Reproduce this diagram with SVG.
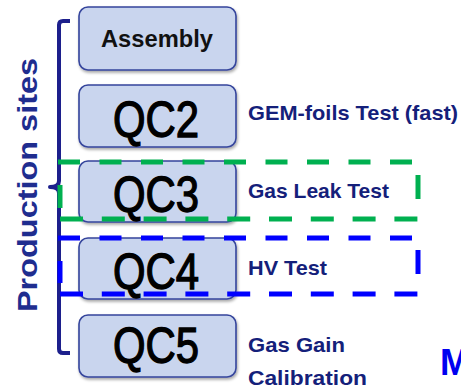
<svg xmlns="http://www.w3.org/2000/svg" width="461" height="390" viewBox="0 0 461 390">
<defs>
<filter id="sh" x="-10%" y="-10%" width="130%" height="140%">
<feGaussianBlur in="SourceAlpha" stdDeviation="1.5"/>
<feOffset dx="1" dy="2" result="b"/>
<feComponentTransfer><feFuncA type="linear" slope="0.35"/></feComponentTransfer>
<feMerge><feMergeNode/><feMergeNode in="SourceGraphic"/></feMerge>
</filter>
<style>
.box{fill:#c9d5ee;stroke:#34449c;stroke-width:1.6}
.qc{font-family:"Liberation Sans",Arial,sans-serif;font-size:50px;fill:#000;stroke:#000;stroke-width:1.3}
.asm{font-family:"Liberation Sans",Arial,sans-serif;font-size:24px;font-weight:bold;fill:#111}
.lbl{font-family:"Liberation Sans",Arial,sans-serif;font-size:21px;font-weight:bold;fill:#14207a}
.title{font-family:"Liberation Sans",Arial,sans-serif;font-size:28px;font-weight:bold;fill:#1f2d8f}
.brace{fill:none;stroke:#1c1f8c;stroke-width:4;stroke-linejoin:round}
.g{stroke:#00b050;stroke-width:5;fill:none}
.b{stroke:#0000ff;stroke-width:5;fill:none}
</style>
</defs>
<rect width="461" height="390" fill="#fff"/>

<g id="production-sites">
<path class="brace" d="M70,21 H63 Q59,21 59,25 V181 Q59,187 50,187 Q59,187 59,193 V349 Q59,353 63,353 H70"/>
<text class="title" transform="translate(37,312) rotate(-90)" x="0" y="0" textLength="254" lengthAdjust="spacingAndGlyphs">Production sites</text>
</g>

<g id="assembly">
<rect class="box" filter="url(#sh)" x="79" y="7" width="157" height="63" rx="9"/>
<text class="asm" x="157" y="47" text-anchor="middle" textLength="112" lengthAdjust="spacingAndGlyphs">Assembly</text>
</g>

<g id="qc2">
<rect class="box" filter="url(#sh)" x="79" y="85" width="157" height="62" rx="9"/>
<text class="qc" x="113" y="137" textLength="86" lengthAdjust="spacingAndGlyphs">QC2</text>
<text class="lbl" x="248" y="120" textLength="210" lengthAdjust="spacingAndGlyphs">GEM-foils Test (fast)</text>
</g>

<g id="qc3">
<rect class="box" filter="url(#sh)" x="79" y="161" width="157" height="61" rx="9"/>
<text class="qc" x="113" y="212" textLength="86" lengthAdjust="spacingAndGlyphs">QC3</text>
<text class="lbl" x="248" y="198" textLength="141" lengthAdjust="spacingAndGlyphs">Gas Leak Test</text>
</g>

<g id="qc4">
<rect class="box" filter="url(#sh)" x="79" y="238" width="157" height="61" rx="9"/>
<text class="qc" x="113" y="289" textLength="86" lengthAdjust="spacingAndGlyphs">QC4</text>
<text class="lbl" x="248" y="275" textLength="79" lengthAdjust="spacingAndGlyphs">HV Test</text>
</g>

<g id="qc5">
<rect class="box" filter="url(#sh)" x="79" y="315" width="157" height="62" rx="9"/>
<text class="qc" x="113" y="363" textLength="86" lengthAdjust="spacingAndGlyphs">QC5</text>
<text class="lbl" x="248" y="352" textLength="97" lengthAdjust="spacingAndGlyphs">Gas Gain</text>
<text class="lbl" x="248" y="385" textLength="119" lengthAdjust="spacingAndGlyphs">Calibration</text>
</g>

<g id="connectors">
<g id="highlight-qc3">
<line class="g" x1="58" y1="162" x2="418" y2="162" stroke-dasharray="22 19.5"/>
<line class="g" x1="418" y1="175" x2="418" y2="199"/>
<line class="g" x1="60" y1="219" x2="421" y2="219" stroke-dasharray="23 18.8"/>
<line class="g" x1="60" y1="185" x2="60" y2="208"/>
</g>
<g id="highlight-qc4">
<line class="b" x1="58" y1="238" x2="418" y2="238" stroke-dasharray="22 19.5"/>
<line class="b" x1="418" y1="250" x2="418" y2="274"/>
<line class="b" x1="60" y1="294" x2="421" y2="294" stroke-dasharray="23 18.8"/>
<line class="b" x1="60" y1="261" x2="60" y2="283"/>
</g>
</g>

<text x="440" y="375" font-family="Liberation Sans,Arial,sans-serif" font-size="36" font-weight="bold" fill="#0000f0">M</text>
</svg>
